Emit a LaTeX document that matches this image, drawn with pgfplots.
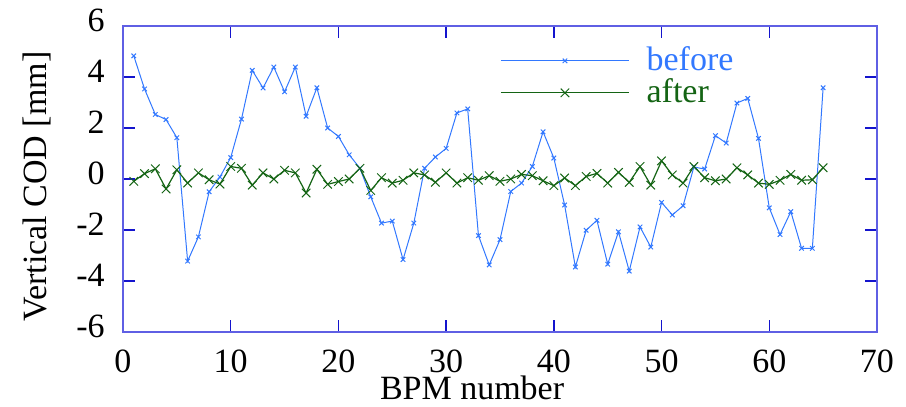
\documentclass[border=0pt]{standalone}
\usepackage{fontspec}
\setmainfont{Liberation Serif}
\usepackage{pgfplots}
\pgfplotsset{compat=1.18}
\usepackage{pgfplotstable}
\definecolor{cbefore}{RGB}{50,120,255}
\definecolor{cafter}{RGB}{20,100,20}
\definecolor{cframe}{RGB}{95,95,228}
\definecolor{ctick}{RGB}{20,20,205}
\pgfplotstableread{
n before after
1 4.83 -0.09
2 3.53 0.21
3 2.53 0.40
4 2.33 -0.39
5 1.62 0.36
6 -3.22 -0.16
7 -2.27 0.24
8 -0.50 -0.03
9 0.08 -0.20
10 0.84 0.49
11 2.35 0.42
12 4.26 -0.24
13 3.57 0.24
14 4.39 0.00
15 3.42 0.34
16 4.39 0.24
17 2.46 -0.55
18 3.58 0.38
19 2.00 -0.21
20 1.67 -0.10
21 0.95 0.00
22 0.42 0.42
23 -0.70 -0.45
24 -1.73 0.05
25 -1.65 -0.16
26 -3.16 -0.05
27 -1.73 0.24
28 0.42 0.16
29 0.86 -0.13
30 1.20 0.24
31 2.59 -0.16
32 2.75 0.05
33 -2.22 -0.05
34 -3.37 0.13
35 -2.38 -0.09
36 -0.49 0.00
37 -0.16 0.18
38 0.49 0.13
39 1.85 -0.07
40 0.82 -0.26
41 -1.02 0.04
42 -3.45 -0.26
43 -2.01 0.10
44 -1.62 0.22
45 -3.34 -0.16
46 -2.07 0.26
47 -3.61 -0.13
48 -1.88 0.49
49 -2.67 -0.24
50 -0.92 0.71
51 -1.41 0.16
52 -1.05 -0.16
53 0.47 0.49
54 0.39 0.05
55 1.70 -0.07
56 1.41 0.00
57 2.98 0.44
58 3.16 0.16
59 1.59 -0.16
60 -1.13 -0.21
61 -2.18 -0.05
62 -1.28 0.18
63 -2.72 -0.05
64 -2.72 -0.03
65 3.58 0.44
}\datatable
\begin{document}
\fontsize{17}{20}\selectfont
\begin{tikzpicture}
\path[use as bounding box] (-61.5pt,-37.5pt) rectangle (391.5pt,166pt);
\begin{axis}[
  at={(0,0)}, anchor=south west,
  scale only axis,
  width=377pt, height=153pt,
  xmin=0, xmax=70, ymin=-6, ymax=6,
  xtick={0,10,...,70}, ytick={-6,-4,...,6},
  tick align=inside,
  major tick length=6pt,
  axis line style={draw=cframe, line width=0.9pt},
  every tick/.style={ctick, line width=0.7pt},
  xticklabel={\pgfmathprintnumber[assume math mode=true]{\tick}},
  yticklabel={\pgfmathprintnumber[assume math mode=true]{\tick}},
  xticklabel style={anchor=base, yshift=-20.3pt, inner sep=0pt, text depth=0pt},
  yticklabel style={anchor=east, inner sep=0pt, xshift=-9pt, yshift=3pt},
  xlabel={BPM number},
  ylabel={Vertical COD [mm]},
  xlabel style={at={(axis description cs:0.463,-0.222)}, anchor=base, inner sep=0pt},
  ylabel style={at={(axis description cs:-0.114,0.475)}, anchor=center, inner sep=0pt},
  legend style={draw=none, fill=none, at={(axis description cs:0.500,0.834)}, anchor=west,
    inner sep=0pt, row sep=0pt,
    nodes={inner sep=1pt, text height=12pt, text depth=2pt}},
  legend cell align=left,
  legend image code/.code={\draw[mark repeat=2,mark phase=2,#1] plot coordinates {(0pt,0pt) (32pt,0pt) (64pt,0pt)};},
]
\addplot[cbefore, line width=0.5pt, mark=x, mark size=1.6pt, mark options={line width=0.5pt}] table[x=n,y=before] {\datatable};
\addlegendentry{\hspace{7.5pt}\textcolor{cbefore}{before}}
\addplot[cafter, line width=0.6pt, mark=x, mark size=3pt, mark options={line width=0.5pt}] table[x=n,y=after] {\datatable};
\addlegendentry{\hspace{7.5pt}\textcolor{cafter}{after}}
\end{axis}
\end{tikzpicture}
\end{document}
